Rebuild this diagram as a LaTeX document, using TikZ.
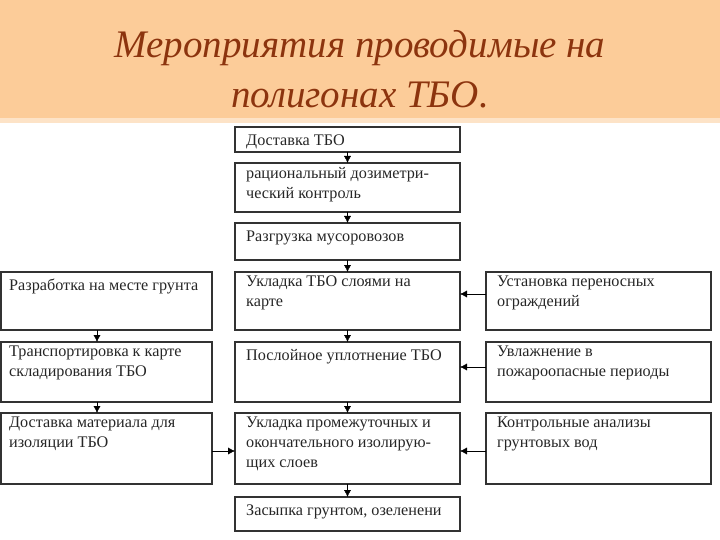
\documentclass[tikz,border=0pt]{standalone}
\usepackage{fontspec}
\setmainfont{Liberation Serif}
\usetikzlibrary{arrows.meta}
\definecolor{bandpeach}{RGB}{252,204,153}
\definecolor{titlebrown}{RGB}{140,52,14}
\definecolor{boxline}{RGB}{50,50,50}

\begin{document}
\begin{tikzpicture}[x=1pt, y=-1pt, >={Latex[length=7pt,width=7pt]},
	every node/.style={font=\fontsize{16.2}{20}\selectfont},
	blk/.style={draw=boxline, line width=1.5pt, anchor=north west, inner sep=0pt, outer sep=0pt},
	txt/.style={anchor=north west, align=left, xshift=11pt, yshift=-4pt, text=black!85, inner sep=0pt,
		execute at begin node=\strut}]
	\useasboundingbox (0,0) rectangle (720,540);
	% title band
	\fill[bandpeach] (0,0) rectangle (720,123);
	\fill[bandpeach!55] (0,118) rectangle (720,123);
	\node[font=\fontsize{39}{50}\selectfont\itshape, text=titlebrown, align=center, anchor=base] (title) at (360,108)
		{Мероприятия проводимые на\\полигонах ТБО.};
	% centre column
	\node[blk, minimum width=225, minimum height=25, label={[txt]north west:Доставка ТБО}] (C1) at (235,127) {};
	\node[blk, minimum width=225, minimum height=49, label={[txt]north west:рациональный дозиметри-\\ческий контроль}] (C2) at (235,163) {};
	\node[blk, minimum width=225, minimum height=37, label={[txt]north west:Разгрузка мусоровозов}] (C3) at (235,223) {};
	\node[blk, minimum width=225, minimum height=58, label={[txt]north west:Укладка ТБО слоями на\\карте}] (C4) at (235,272) {};
	\node[blk, minimum width=225, minimum height=60, label={[txt]north west:Послойное уплотнение ТБО}] (C5) at (235,342) {};
	\node[blk, minimum width=225, minimum height=71, label={[txt]north west:Укладка промежуточных и\\окончательного изолирую-\\щих слоев}] (C6) at (235,413) {};
	\node[blk, minimum width=225, minimum height=34, label={[txt]north west:Засыпка грунтом, озеленени}] (C7) at (235,497) {};
	% left column
	\node[blk, minimum width=211, minimum height=58, label={[txt, xshift=-3pt]north west:Разработка на месте грунта}] (L1) at (1,272) {};
	\node[blk, minimum width=211, minimum height=60, label={[txt, xshift=-3pt]north west:Транспортировка к карте\\складирования ТБО}] (L2) at (1,342) {};
	\node[blk, minimum width=211, minimum height=71, label={[txt, xshift=-3pt]north west:Доставка материала для\\изоляции ТБО}] (L3) at (1,413) {};
	% right column
	\node[blk, minimum width=225, minimum height=58, label={[txt]north west:Установка переносных\\ограждений}] (R1) at (486,272) {};
	\node[blk, minimum width=225, minimum height=60, label={[txt]north west:Увлажнение в\\пожароопасные периоды}] (R2) at (486,342) {};
	\node[blk, minimum width=225, minimum height=71, label={[txt]north west:Контрольные анализы\\грунтовых вод}] (R3) at (486,413) {};
	% arrows
	\draw[->] (C1.south) -- (C2.north);
	\draw[->] (C2.south) -- (C3.north);
	\draw[->] (C3.south) -- (C4.north);
	\draw[->] (C4.south) -- (C5.north);
	\draw[->] (C5.south) -- (C6.north);
	\draw[->] (C6.south) -- (C7.north);
	\draw[->] ([xshift=-9.5pt]L1.south) -- ([xshift=-9.5pt]L2.north);
	\draw[->] ([xshift=-9.5pt]L2.south) -- ([xshift=-9.5pt]L3.north);
	\draw[->] ([yshift=-2.5pt]L3.east) -- ([yshift=-2.5pt]L3.east -| C6.west);
	\draw[->] ([yshift=7pt]R1.west) -- ([yshift=7pt]R1.west -| C4.east);
	\draw[->] ([yshift=5pt]R2.west) -- ([yshift=5pt]R2.west -| C5.east);
	\draw[->] ([yshift=-2.5pt]R3.west) -- ([yshift=-2.5pt]R3.west -| C6.east);
\end{tikzpicture}
\end{document}
